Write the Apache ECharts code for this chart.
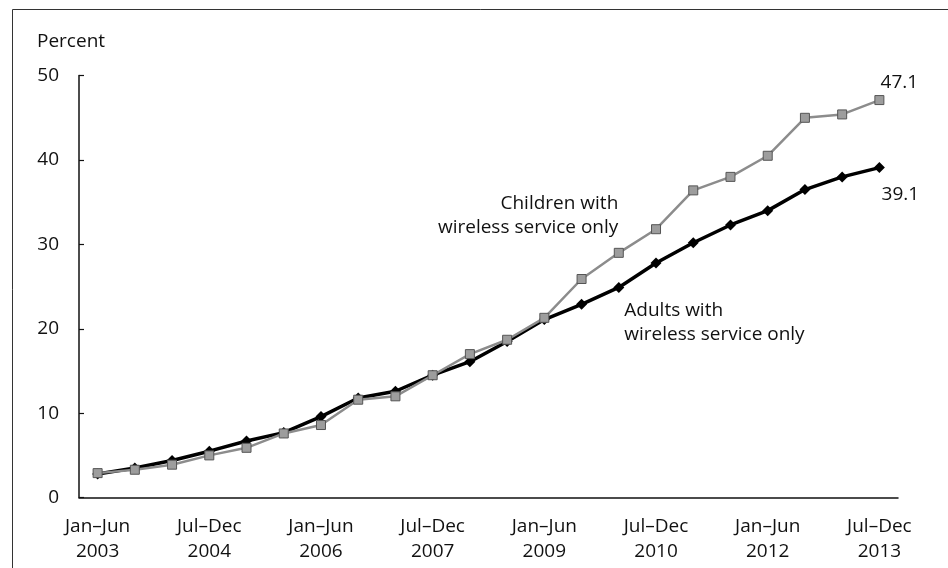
<!DOCTYPE html>
<html>
<head>
<meta charset="utf-8">
<style>
html,body{margin:0;padding:0;background:#fff;}
#chart{width:948px;height:568px;}
</style>
<script src="https://cdn.jsdelivr.net/npm/echarts@6/dist/echarts.min.js"></script>
</head>
<body>
<div id="chart"></div>
<script>
const categories = [
  "Jan–Jun\n2003","Jul–Dec\n2003","Jan–Jun\n2004","Jul–Dec\n2004",
  "Jan–Jun\n2005","Jul–Dec\n2005","Jan–Jun\n2006","Jul–Dec\n2006",
  "Jan–Jun\n2007","Jul–Dec\n2007","Jan–Jun\n2008","Jul–Dec\n2008",
  "Jan–Jun\n2009","Jul–Dec\n2009","Jan–Jun\n2010","Jul–Dec\n2010",
  "Jan–Jun\n2011","Jul–Dec\n2011","Jan–Jun\n2012","Jul–Dec\n2012",
  "Jan–Jun\n2013","Jul–Dec\n2013"
];
const adults = [2.8,3.5,4.4,5.5,6.7,7.7,9.6,11.8,12.6,14.5,16.1,18.5,21.1,22.9,24.9,27.8,30.2,32.3,34.0,36.5,38.0,39.1];
const children = [2.9,3.3,3.9,5.0,5.9,7.6,8.6,11.6,12.0,14.5,17.0,18.7,21.3,25.9,29.0,31.8,36.4,38.0,40.5,45.0,45.4,47.1];
const yTicks = { min: 0, max: 50, interval: 10 };
const seriesNames = ["Adults with\nwireless service only", "Children with\nwireless service only"];

const FONT = "Open Sans";
const TXT = '#111';
const chart = echarts.init(document.getElementById('chart'), null, {renderer: 'canvas'});
const last = categories.length - 1;

function textPoint(coord, text, position, offset, align) {
  return {
    coord: coord, value: 0,
    symbol: 'circle', symbolSize: 1,
    itemStyle: { color: 'rgba(0,0,0,0)' },
    label: { show: true, formatter: text, position: position, offset: offset,
             align: align, color: TXT, fontSize: 19, fontFamily: FONT, lineHeight: 24 }
  };
}

chart.setOption({
  animation: false,
  backgroundColor: '#fff',
  textStyle: { fontFamily: FONT },
  grid: { left: 79, right: 50, top: 75.6, bottom: 70.4, containLabel: false },
  xAxis: {
    type: 'category',
    data: categories,
    boundaryGap: true,
    axisLine: { lineStyle: { color: '#111', width: 1.5 } },
    axisTick: { alignWithLabel: true, interval: 0, inside: true, length: 5, lineStyle: { color: '#111', width: 1.2 } },
    axisLabel: { interval: 2, color: TXT, fontSize: 19, fontFamily: FONT, lineHeight: 25, margin: 16 },
    splitLine: { show: false }
  },
  yAxis: {
    type: 'value',
    min: yTicks.min, max: yTicks.max, interval: yTicks.interval,
    axisLine: { show: true, lineStyle: { color: '#111', width: 1.5 } },
    axisTick: { show: true, inside: true, length: 5, lineStyle: { color: '#111', width: 1.2 } },
    axisLabel: { color: TXT, fontSize: 19, fontFamily: FONT, margin: 20 },
    splitLine: { show: false }
  },
  graphic: [
    { type: 'rect', shape: { x: 12.5, y: 9.5, width: 960, height: 600 }, style: { fill: 'none', stroke: '#333', lineWidth: 1 }, silent: true },
    { type: 'text', left: 37, top: 32, style: { text: 'Percent', fill: TXT, font: '19px "Open Sans"' } }
  ],
  series: [
    {
      name: seriesNames[0],
      type: 'line',
      data: adults,
      symbol: 'diamond',
      symbolSize: 11,
      lineStyle: { color: '#000', width: 3.5 },
      itemStyle: { color: '#000' },
      z: 2,
      markPoint: {
        data: [
          textPoint([last, adults[last]], adults[last].toFixed(1), 'bottom', [21, 9], 'center'),
          textPoint([14.0, 20.7], seriesNames[0], 'right', [0, 0], 'left')
        ]
      }
    },
    {
      name: seriesNames[1],
      type: 'line',
      data: children,
      symbol: 'rect',
      symbolSize: 9,
      lineStyle: { color: '#8c8c8c', width: 2.5 },
      itemStyle: { color: '#9d9d9d', borderColor: '#555', borderWidth: 1 },
      z: 3,
      markPoint: {
        data: [
          textPoint([last, children[last]], children[last].toFixed(1), 'top', [20, 0], 'center'),
          textPoint([14.0, 33.4], seriesNames[1], 'left', [5, 0], 'right')
        ]
      }
    }
  ]
});
</script>
</body>
</html>
